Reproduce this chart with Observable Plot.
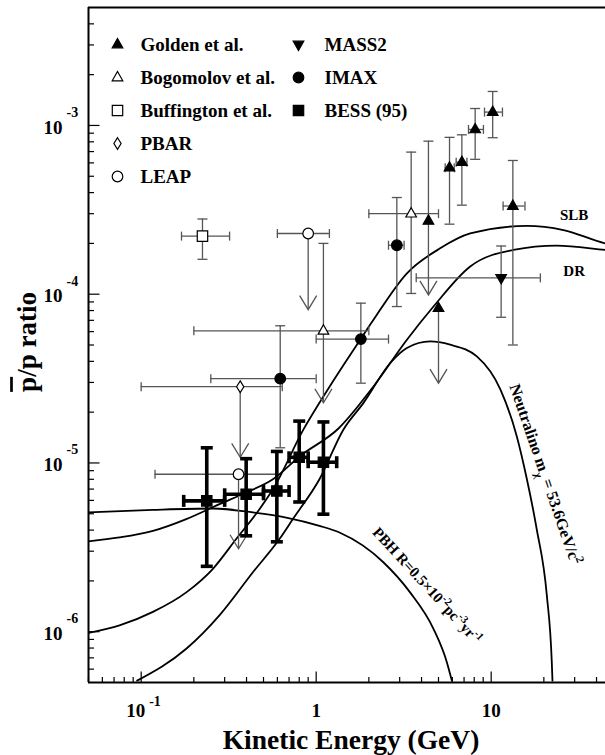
<!DOCTYPE html>
<html><head><meta charset="utf-8">
<script src="https://cdn.jsdelivr.net/npm/d3@7"></script>
<script src="https://cdn.jsdelivr.net/npm/@observablehq/plot@0.6"></script>
<style>
html,body{margin:0;padding:0;background:#fff;overflow:hidden;}
#chart{width:605px;height:755px;}
</style></head><body><div id="chart"></div>
<script>
// ---------- axes ----------
const xDomain = [0.05, 50];
const yDomain = [5e-7, 5e-3];
const xMajorTicks = [0.1, 1, 10];
const xMinorTicks = [0.05,0.06,0.07,0.08,0.09,0.2,0.3,0.4,0.5,0.6,0.7,0.8,0.9,2,3,4,5,6,7,8,9,20,30,40];
const yMajorTicks = [1e-6, 1e-5, 1e-4, 1e-3];
const yMinorTicks = [6e-7,7e-7,8e-7,9e-7,2e-6,3e-6,4e-6,5e-6,6e-6,7e-6,8e-6,9e-6,2e-5,3e-5,4e-5,5e-5,6e-5,7e-5,8e-5,9e-5,2e-4,3e-4,4e-4,5e-4,6e-4,7e-4,8e-4,9e-4,2e-3,3e-3,4e-3];
const xTickBase = ["10", "1", "10"];
const xTickExp  = ["-1", "", ""];
const yTickBase = ["10", "10", "10", "10"];
const yTickExp  = ["-6", "-5", "-4", "-3"];

// ---------- data (E in GeV, R = pbar/p) ----------
const goldenE   = [10.2, 8.10, 6.80, 5.78, 13.3, 4.38, 5.0];
const goldenR   = [1.20e-3, 9.47e-4, 6.06e-4, 5.62e-4, 3.33e-4, 2.72e-4, 8.26e-5];
const goldenElo = [9.16, 7.42, 6.31, 5.46, 11.7, null, null];
const goldenEhi = [11.6, 9.03, 7.27, 6.15, 15.6, null, null];
const goldenRlo = [8.46e-4, 6.3e-4, 3.37e-4, 2.6e-4, 5.0e-5, null, null];
const goldenRhi = [1.59e-3, 1.26e-3, 8.8e-4, 8.5e-4, 6.2e-4, 8.07e-4, null];
const goldenLim = [null, null, null, null, null, 9.9e-5, 2.97e-5];

const bogoE   = [3.49, 1.10];
const bogoR   = [3.0e-4, 6.07e-5];
const bogoElo = [2.0, 0.2];
const bogoEhi = [5.0, 2.0];
const bogoRlo = [1.01e-4, null];
const bogoRhi = [6.95e-4, 2.0e-4];
const bogoLim = [null, 2.27e-5];

const buffE = [0.224], buffR = [2.21e-4], buffElo = [0.17], buffEhi = [0.32], buffRlo = [1.61e-4], buffRhi = [2.79e-4];

const pbarE = [0.368], pbarR = [2.83e-5], pbarElo = [0.1], pbarEhi = [0.64], pbarLim = [1.08e-5];

const leapE   = [0.90, 0.36];
const leapR   = [2.29e-4, 8.57e-6];
const leapElo = [0.60, 0.12];
const leapEhi = [1.19, 0.60];
const leapLim = [8.1e-5, 3.1e-6];

const imaxE   = [0.623, 1.80, 2.89];
const imaxR   = [3.16e-5, 5.42e-5, 1.95e-4];
const imaxElo = [0.25, 1.0, 2.59];
const imaxEhi = [1.0, 2.59, 3.18];
const imaxRlo = [1.23e-5, 2.97e-5, 8.45e-5];
const imaxRhi = [6.5e-5, 8.85e-5, 3.74e-4];

const mass2E = [11.4], mass2R = [1.25e-4], mass2Elo = [3.73], mass2Ehi = [19.1], mass2Rlo = [7.3e-5], mass2Rhi = [1.93e-4];

const bessE   = [0.237, 0.398, 0.596, 0.80, 1.10];
const bessR   = [5.96e-6, 6.52e-6, 6.82e-6, 1.08e-5, 1.01e-5];
const bessElo = [0.175, 0.3, 0.5, 0.7, 0.9];
const bessEhi = [0.3, 0.5, 0.7, 0.9, 1.31];
const bessRlo = [2.44e-6, 3.7e-6, 3.41e-6, 5.87e-6, 4.97e-6];
const bessRhi = [1.23e-5, 1.06e-5, 1.17e-5, 1.77e-5, 1.75e-5];

// ---------- model curves ----------
const slbE = [0.05, 0.0752, 0.1167, 0.181, 0.257, 0.349, 0.474, 0.566, 0.846, 1.202, 1.784, 2.125, 3.30, 5.11, 7.59, 16.0, 25.9, 44.8, 50];
const slbR = [9.85e-7, 1.09e-6, 1.31e-6, 1.71e-6, 2.36e-6, 3.54e-6, 5.32e-6, 6.98e-6, 1.58e-5, 2.87e-5, 5.37e-5, 7.05e-5, 1.33e-4, 1.87e-4, 2.29e-4, 2.54e-4, 2.40e-4, 2.0e-4, 1.95e-4];
const drE = [0.05, 0.0752, 0.1167, 0.181, 0.280, 0.398, 0.566, 0.81, 1.341, 2.125, 3.30, 4.68, 7.59, 13.4, 23.7, 44.8, 50];
const drR = [3.43e-6, 3.62e-6, 3.96e-6, 4.65e-6, 5.70e-6, 6.68e-6, 8.0e-6, 1.1e-5, 1.6e-5, 2.84e-5, 5.37e-5, 8.45e-5, 1.46e-4, 1.83e-4, 1.94e-4, 1.83e-4, 1.81e-4];
const neuE = [0.0948, 0.181, 0.280, 0.435, 0.617, 0.736, 1.044, 1.432, 1.864, 2.65, 3.30, 4.48, 5.83, 8.28, 11.3, 14.0, 16.0, 18.2, 20.8, 22.2, 22.4];
const neuR = [5.13e-7, 7.92e-7, 1.25e-6, 2.25e-6, 3.54e-6, 4.65e-6, 8.0e-6, 1.58e-5, 2.27e-5, 3.91e-5, 4.80e-5, 5.25e-5, 5.02e-5, 4.28e-5, 2.72e-5, 1.44e-5, 8.0e-6, 4.06e-6, 1.64e-6, 6.6e-7, 5.13e-7];
const pbhE = [0.05, 0.1167, 0.257, 0.435, 0.674, 1.044, 1.359, 2.42, 3.44, 4.68, 5.58, 5.96];
const pbhR = [5.09e-6, 5.27e-6, 5.37e-6, 5.09e-6, 4.75e-6, 4.24e-6, 3.87e-6, 2.58e-6, 1.71e-6, 1.04e-6, 6.6e-7, 5.13e-7];

// curve labels (annotation anchor in data units)
const curveLabelText = ["SLB", "DR"];
const curveLabelE = [29.8, 29.8];
const curveLabelR = [2.94e-4, 1.37e-4];
const neuLabel = [["Neutralino m",""],["\u03c7","sub"],[" = 53.6GeV/c",""],["2","sup"]];
const neuLabelE = 20.3, neuLabelR = 8.57e-6;
const pbhLabel = [["PBH R=0.5\u00d710",""],["-2","sup"],["pc",""],["-3","sup"],["yr",""],["-1","sup"]];
const pbhLabelE = 4.29, pbhLabelR = 1.87e-6;

const legendNames = ["Golden et al.", "Bogomolov et al.", "Buffington et al.", "PBAR", "LEAP", "MASS2", "IMAX", "BESS (95)"];

// ---------- helpers ----------
const FONT = "'Liberation Serif','Times New Roman',serif";
const sym = draw => ({draw});
const triUp   = sym(c => {c.moveTo(0,-6); c.lineTo(5.3,3.3); c.lineTo(-5.3,3.3); c.closePath();});
const triDown = sym(c => {c.moveTo(0,6); c.lineTo(5.3,-3.3); c.lineTo(-5.3,-3.3); c.closePath();});
const squareS = sym(c => c.rect(-5.2,-5.2,10.4,10.4));
const diamondS= sym(c => {c.moveTo(0,-5.8); c.lineTo(3.6,0); c.lineTo(0,5.8); c.lineTo(-3.6,0); c.closePath();});
const circleS = sym(c => {c.moveTo(5.3,0); c.arc(0,0,5.3,0,2*Math.PI);});
const hcap = w => sym(c => {c.moveTo(-w,0); c.lineTo(w,0);});
const vcap = h => sym(c => {c.moveTo(0,-h); c.lineTo(0,h);});
const vee = sym(c => {c.moveTo(-8.5,-14); c.lineTo(0,0); c.lineTo(8.5,-14);});
const tickUp = l => sym(c => {c.moveTo(0,0); c.lineTo(0,-l);});
const tickRight = l => sym(c => {c.moveTo(0,0); c.lineTo(l,0);});

function series(E, R, Elo, Ehi, Rlo, Rhi, Lim) {
  return E.map((e,i) => ({E:e, R:R[i], Elo:Elo?Elo[i]:null, Ehi:Ehi?Ehi[i]:null,
    Rlo:Rlo?Rlo[i]:null, Rhi:Rhi?Rhi[i]:null, Lim:Lim?Lim[i]:null}));
}
const curve = (E, R) => E.map((e,i) => ({E:e, R:R[i]}));

const golden = series(goldenE, goldenR, goldenElo, goldenEhi, goldenRlo, goldenRhi, goldenLim);
const bogo   = series(bogoE, bogoR, bogoElo, bogoEhi, bogoRlo, bogoRhi, bogoLim);
const buff   = series(buffE, buffR, buffElo, buffEhi, buffRlo, buffRhi, null);
const pbar   = series(pbarE, pbarR, pbarElo, pbarEhi, null, null, pbarLim);
const leap   = series(leapE, leapR, leapElo, leapEhi, null, null, leapLim);
const imax   = series(imaxE, imaxR, imaxElo, imaxEhi, imaxRlo, imaxRhi, null);
const mass2  = series(mass2E, mass2R, mass2Elo, mass2Ehi, mass2Rlo, mass2Rhi, null);
const bess   = series(bessE, bessR, bessElo, bessEhi, bessRlo, bessRhi, null);

function errMarks(data, {stroke="#555", sw=1.3, capW=5, capH=4.5} = {}) {
  const vData = data.map(d => ({E:d.E, lo: Math.min(d.Rlo ?? d.R, d.Lim ?? d.R), hi: d.Rhi ?? d.R})).filter(d => d.lo < d.hi);
  const hData = data.filter(d => d.Elo != null);
  const capsV = data.flatMap(d => [d.Rlo, d.Rhi].filter(v => v != null).map(v => ({E:d.E, R:v})));
  const capsH = hData.flatMap(d => [{E:d.Elo, R:d.R}, {E:d.Ehi, R:d.R}]);
  const lims = data.filter(d => d.Lim != null);
  return [
    Plot.ruleX(vData, {x:"E", y1:"lo", y2:"hi", stroke, strokeWidth:sw}),
    Plot.ruleY(hData, {y:"R", x1:"Elo", x2:"Ehi", stroke, strokeWidth:sw}),
    Plot.dot(capsV, {x:"E", y:"R", symbol:hcap(capW), stroke, strokeWidth:sw, fill:"none"}),
    Plot.dot(capsH, {x:"E", y:"R", symbol:vcap(capH), stroke, strokeWidth:sw, fill:"none"}),
    Plot.dot(lims, {x:"E", y:"Lim", symbol:vee, stroke, strokeWidth:sw, fill:"none"})
  ];
}
const markerOf = {
  "Golden et al.":    {symbol:triUp, fill:"black"},
  "Bogomolov et al.": {symbol:triUp, fill:"white"},
  "Buffington et al.":{symbol:squareS, fill:"white"},
  "PBAR":             {symbol:diamondS, fill:"white"},
  "LEAP":             {symbol:circleS, fill:"white"},
  "MASS2":            {symbol:triDown, fill:"black"},
  "IMAX":             {symbol:circleS, fill:"black"},
  "BESS (95)":        {symbol:squareS, fill:"black"}
};
const pts = (data, name) => Plot.dot(data, {x:"E", y:"R", ...markerOf[name], stroke:"black", strokeWidth:1.2});

const txt = {fontFamily: FONT, fontWeight: "bold", fill: "black"};

const legendMarks = legendNames.flatMap((name, i) => {
  const col = i < 5 ? 0 : 1, row = i < 5 ? i : i - 5;
  const dxS = col ? 210 : 29, dxT = col ? 236 : 52, dy = 37 + row * 33;
  return [
    Plot.dot([name], {frameAnchor:"top-left", dx:dxS, dy, ...markerOf[name], stroke:"black", strokeWidth:1.2}),
    Plot.text([name], {frameAnchor:"top-left", dx:dxT, dy, text:d=>d, textAnchor:"start", lineAnchor:"middle", fontSize:19, ...txt})
  ];
});

const xTicks = xMajorTicks.map((v,i) => ({v, base:xTickBase[i], exp:xTickExp[i]}));
const yTicks = yMajorTicks.map((v,i) => ({v, base:yTickBase[i], exp:yTickExp[i]}));
const lineOpts = {curve:"monotone-x", stroke:"black", strokeWidth:1.8, clip:true};

const chart = Plot.plot({
  width: 605, height: 755,
  marginLeft: 88, marginRight: 0, marginTop: 7, marginBottom: 73,
  style: {fontFamily: FONT, background: "white"},
  x: {type: "log", domain: xDomain, range: [88, 613], axis: null},
  y: {type: "log", domain: yDomain, axis: null},
  marks: [
    // model curves
    Plot.line(curve(slbE, slbR), {x:"E", y:"R", ...lineOpts}),
    Plot.line(curve(drE, drR), {x:"E", y:"R", ...lineOpts}),
    Plot.line(curve(neuE, neuR), {x:"E", y:"R", ...lineOpts}),
    Plot.line(curve(pbhE, pbhR), {x:"E", y:"R", ...lineOpts}),
    // error bars
    ...errMarks(golden), ...errMarks(bogo), ...errMarks(buff), ...errMarks(pbar),
    ...errMarks(leap), ...errMarks(imax), ...errMarks(mass2),
    ...errMarks(bess, {stroke:"black", sw:3.6, capW:6, capH:6}),
    // markers
    pts(golden, "Golden et al."), pts(bogo, "Bogomolov et al."), pts(buff, "Buffington et al."),
    pts(pbar, "PBAR"), pts(leap, "LEAP"), pts(imax, "IMAX"), pts(mass2, "MASS2"), pts(bess, "BESS (95)"),
    // curve labels
    Plot.text(curveLabelText, {x:(d,i)=>curveLabelE[i], y:(d,i)=>curveLabelR[i], text:d=>d, fontSize:15, ...txt}),
    Plot.text([neuLabel.map(s=>s[0]).join("")], {x:()=>neuLabelE, y:()=>neuLabelR, text:d=>d, rotate:71, fontSize:16, ...txt}),
    Plot.text([pbhLabel.map(s=>s[0]).join("")], {x:()=>pbhLabelE, y:()=>pbhLabelR, text:d=>d, rotate:47.5, fontSize:15, ...txt}),
    // legend
    ...legendMarks,
    // frame (top, left, bottom)
    Plot.ruleY([yDomain[1]], {stroke:"black", strokeWidth:2}),
    Plot.ruleY([yDomain[0]], {stroke:"black", strokeWidth:2}),
    Plot.ruleX([xDomain[0]], {stroke:"black", strokeWidth:2}),
    // inward ticks
    Plot.dot(xMajorTicks, {x:d=>d, frameAnchor:"bottom", symbol:tickUp(11), stroke:"black", strokeWidth:1.2, fill:"none"}),
    Plot.dot(xMinorTicks, {x:d=>d, frameAnchor:"bottom", symbol:tickUp(5.5), stroke:"black", strokeWidth:1.2, fill:"none"}),
    Plot.dot(yMajorTicks, {y:d=>d, frameAnchor:"left", symbol:tickRight(11), stroke:"black", strokeWidth:1.2, fill:"none"}),
    Plot.dot(yMinorTicks, {y:d=>d, frameAnchor:"left", symbol:tickRight(5.5), stroke:"black", strokeWidth:1.2, fill:"none"}),
    // tick labels
    Plot.text(xTicks.filter(d=>d.exp), {x:"v", text:"base", frameAnchor:"bottom", dx:4, dy:28, textAnchor:"end", lineAnchor:"middle", fontSize:19, ...txt}),
    Plot.text(xTicks.filter(d=>d.exp), {x:"v", text:"exp", frameAnchor:"bottom", dx:8, dy:19, textAnchor:"start", lineAnchor:"middle", fontSize:14, ...txt}),
    Plot.text(xTicks.filter(d=>!d.exp), {x:"v", text:"base", frameAnchor:"bottom", dy:28, textAnchor:"middle", lineAnchor:"middle", fontSize:19, ...txt}),
    Plot.text(yTicks, {y:"v", text:"base", frameAnchor:"left", dx:-26, dy:2, textAnchor:"end", lineAnchor:"middle", fontSize:19, ...txt}),
    Plot.text(yTicks, {y:"v", text:"exp", frameAnchor:"left", dx:-22, dy:-13, textAnchor:"start", lineAnchor:"middle", fontSize:14, ...txt}),
    // axis titles
    Plot.text(["Kinetic Energy (GeV)"], {frameAnchor:"bottom", dx:4, dy:58, text:d=>d, textAnchor:"middle", lineAnchor:"middle", fontSize:27.5, ...txt}),
    Plot.text(["p/p ratio"], {frameAnchor:"left", dx:-61, dy:-3, rotate:-90, text:d=>d, textAnchor:"middle", lineAnchor:"middle", fontSize:27, ...txt})
  ]
});
document.getElementById("chart").appendChild(chart);

// rich text (sub/superscripts, overline)
function richify(plain, segments, baseSize) {
  chart.querySelectorAll("text").forEach(t => {
    if (t.textContent !== plain) return;
    t.textContent = "";
    let shift = 0;
    for (const [s, kind] of segments) {
      const ts = document.createElementNS("http://www.w3.org/2000/svg", "tspan");
      ts.textContent = s;
      const target = kind === "sup" ? -0.42 * baseSize : kind === "sub" ? 0.3 * baseSize : 0;
      if (target !== shift) ts.setAttribute("dy", (target - shift).toFixed(2));
      shift = target;
      if (kind === "sup" || kind === "sub") ts.setAttribute("font-size", (baseSize * 0.72).toFixed(1));
      if (kind === "over") ts.setAttribute("text-decoration", "overline");
      t.appendChild(ts);
    }
  });
}
richify(neuLabel.map(s=>s[0]).join(""), neuLabel, 16);
richify(pbhLabel.map(s=>s[0]).join(""), pbhLabel, 15);
richify("p/p ratio", [["p","over"],["/p ratio",""]], 27);
</script></body></html>
